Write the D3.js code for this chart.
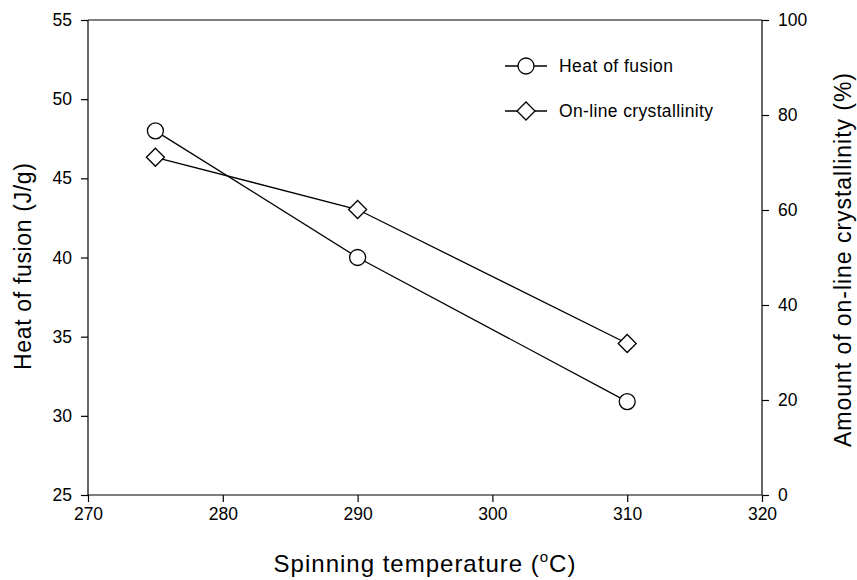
<!DOCTYPE html>
<html><head><meta charset="utf-8">
<script src="https://cdn.jsdelivr.net/npm/d3@7"></script>
<style>body{margin:0;background:#fff}svg{display:block}text{font-family:"Liberation Sans",Arial,sans-serif;fill:#000}</style>
</head><body>
<svg id="c" width="857" height="580"></svg>
<script>
const temps = [275, 290, 310];
const heatOfFusion = [48.0, 40.0, 30.9];
const crystallinity = [71.1, 60.1, 31.9];
const xTicks = [270, 280, 290, 300, 310, 320];
const yLeftTicks = [25, 30, 35, 40, 45, 50, 55];
const yRightTicks = [0, 20, 40, 60, 80, 100];
const seriesNames = ["Heat of fusion", "On-line crystallinity"];

const svg = d3.select("#c");
const L = 88, R = 762, T = 20, B = 495;
const x = d3.scaleLinear().domain([270, 320]).range([L, R]);
const yL = d3.scaleLinear().domain([25, 55]).range([B, T]);
const yR = d3.scaleLinear().domain([0, 100]).range([B, T]);

const fs = "17.5px";
const gx = svg.append("g").attr("transform", `translate(0,${B})`)
  .call(d3.axisBottom(x).tickValues(xTicks).tickSize(7).tickPadding(6).tickFormat(d3.format("d")));
const gl = svg.append("g").attr("transform", `translate(${L},0)`)
  .call(d3.axisLeft(yL).tickValues(yLeftTicks).tickSize(7).tickPadding(9).tickFormat(d3.format("d")));
const gr = svg.append("g").attr("transform", `translate(${R},0)`)
  .call(d3.axisRight(yR).tickValues(yRightTicks).tickSize(7).tickPadding(9).tickFormat(d3.format("d")));
[gx, gl, gr].forEach(g => {
  g.select("path.domain").remove();
  g.selectAll(".tick line").attr("stroke", "#000").attr("stroke-width", 1.2);
  g.selectAll(".tick text").attr("font-size", fs).attr("font-family", '"Liberation Sans",Arial,sans-serif').attr("fill", "#000");
});
// frame
[[L, T, R, T], [L, B, R, B], [L, T, L, B], [R, T, R, B]].forEach(([a, b, c, d]) =>
  svg.append("line").attr("x1", a).attr("y1", b).attr("x2", c).attr("y2", d).attr("stroke", "#000").attr("stroke-width", 1.2));

// lines
const lineL = d3.line().x((d, i) => x(temps[i])).y(d => yL(d));
const lineR = d3.line().x((d, i) => x(temps[i])).y(d => yR(d));
svg.append("path").attr("d", lineL(heatOfFusion)).attr("fill", "none").attr("stroke", "#000").attr("stroke-width", 1.3);
svg.append("path").attr("d", lineR(crystallinity)).attr("fill", "none").attr("stroke", "#000").attr("stroke-width", 1.3);

const diam = (cx, cy, r) => `M${cx},${cy - r}L${cx + r},${cy}L${cx},${cy + r}L${cx - r},${cy}Z`;

svg.selectAll("circle.hf").data(heatOfFusion).enter().append("circle")
  .attr("cx", (d, i) => x(temps[i])).attr("cy", d => yL(d)).attr("r", 8)
  .attr("fill", "#fff").attr("stroke", "#000").attr("stroke-width", 1.3);
svg.selectAll("path.cr").data(crystallinity).enter().append("path")
  .attr("d", (d, i) => diam(x(temps[i]), yR(d), 9))
  .attr("fill", "#fff").attr("stroke", "#000").attr("stroke-width", 1.3);

// legend
const lg = [{y: 66, t: seriesNames[0], s: "c", w: 114}, {y: 111, t: seriesNames[1], s: "d", w: 154}];
lg.forEach(l => {
  svg.append("line").attr("x1", 505).attr("x2", 547).attr("y1", l.y).attr("y2", l.y).attr("stroke", "#000").attr("stroke-width", 1.3);
  if (l.s === "c") svg.append("circle").attr("cx", 526).attr("cy", l.y).attr("r", 8).attr("fill", "#fff").attr("stroke", "#000").attr("stroke-width", 1.3);
  else svg.append("path").attr("d", diam(526, l.y, 9)).attr("fill", "#fff").attr("stroke", "#000").attr("stroke-width", 1.3);
  svg.append("text").attr("x", 559).attr("y", l.y + 6).attr("font-size", "17.5px")
    .attr("textLength", l.w).attr("lengthAdjust", "spacing").text(l.t);
});

// titles
svg.append("text").attr("transform", "translate(31,266.5) rotate(-90)").attr("text-anchor", "middle").attr("font-size", "23px")
  .attr("textLength", 207).attr("lengthAdjust", "spacing").text("Heat of fusion (J/g)");
const xt = svg.append("text").attr("x", 425).attr("y", 572).attr("text-anchor", "middle").attr("font-size", "24px")
  .attr("letter-spacing", "1px");
xt.append("tspan").text("Spinning temperature (");
xt.append("tspan").attr("font-size", "15px").attr("dy", -10).text("o");
xt.append("tspan").attr("dy", 10).text("C)");
svg.append("text").attr("transform", "translate(851,260) rotate(-90)").attr("text-anchor", "middle").attr("font-size", "23px")
  .attr("textLength", 374).attr("lengthAdjust", "spacing").text("Amount of on-line crystallinity (%)");
</script>
</body></html>
